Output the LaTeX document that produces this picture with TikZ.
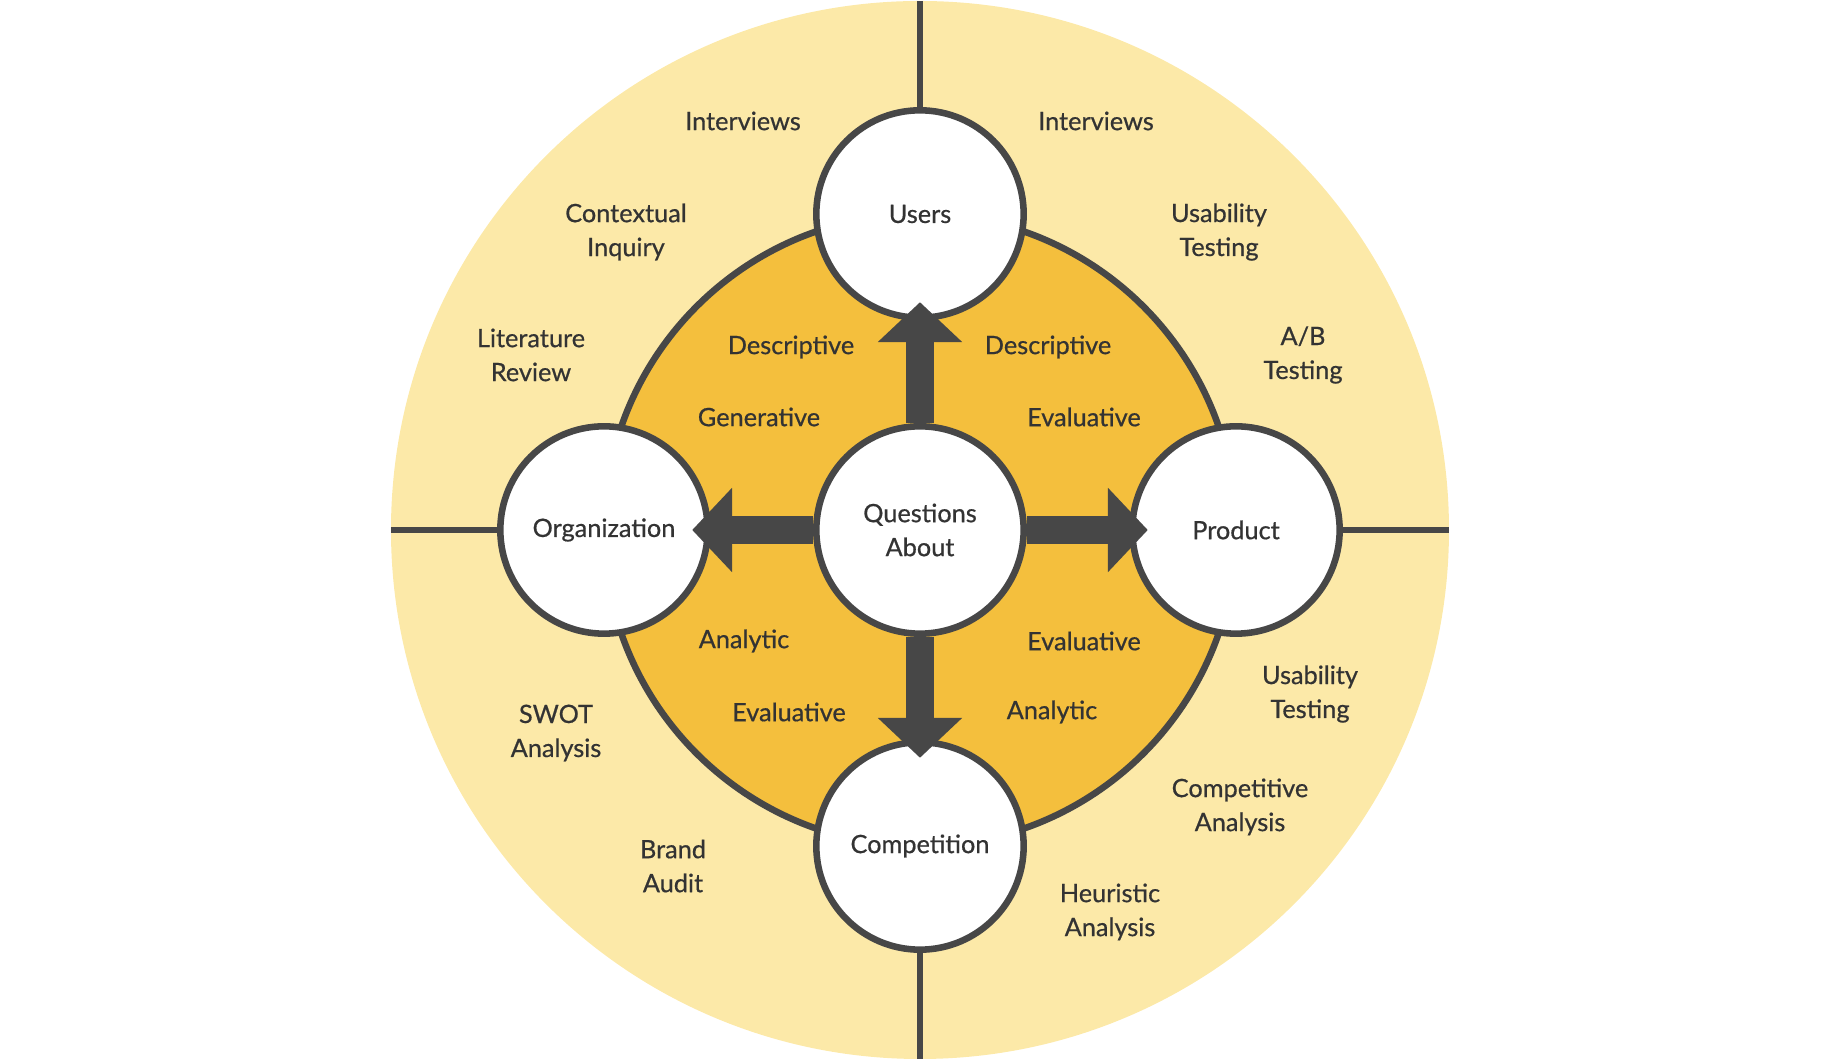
\documentclass[tikz,border=0pt]{standalone}
\usepackage{fontspec}
\setmainfont{Lato}
\newfontfamily\labelfont{Lato}[FakeBold=0.6]
\usepackage{tikz}
\usetikzlibrary{positioning, arrows.meta}
\definecolor{pale}{HTML}{FCE9A8}
\definecolor{amber}{HTML}{F4BF3D}
\definecolor{ink}{HTML}{474747}
\definecolor{txt}{HTML}{333333}
\tikzset{%
	>={Triangle[length = 17pt, width = 35pt]},
	every edge/.append style = {line width = 12pt, draw = ink},
	hub/.style = {name = #1, circle, draw = ink, fill = white, line width = 2.8pt, minimum size = 3.11cm, inner sep = 0pt, text = txt, align = center, font = \labelfont\fontsize{10.8}{14.5}\selectfont},
	tag/.style = {name = #1, text = txt, align = center, font = \labelfont\fontsize{10.8}{14.5}\selectfont},
	divider/.style = {draw = ink, line width = 2.6pt}
}

\begin{document}
\begin{tikzpicture}[x=0.015cm, y=0.015cm]
			\useasboundingbox (-920,-529) rectangle (918,530);
			\fill [pale] (0,0) circle (529);
			\coordinate (N) at (0,529);
			\coordinate (S) at (0,-529);
			\coordinate (W) at (-529,0);
			\coordinate (E) at (529,0);
			\draw [ink, fill = amber, line width = 2.8pt] (0,0) circle (316);
			\node [hub = users] at (0,316) {Users};
			\node [hub = org] at (-316,0) {Organization};
			\node [hub = prod] at (316,0) {Product};
			\node [hub = comp] at (0,-316) {Competition};
			\node [hub = q] at (0,0) {Questions\\About};
			\draw [divider] (users) -- (N);
			\draw [divider] (comp) -- (S);
			\draw [divider] (org) -- (W);
			\draw [divider] (prod) -- (E);
			\path [->] (q) edge [shorten >= -8pt] (users);
			\path [->] (q) edge [shorten >= -8pt] (org);
			\path [->] (q) edge [shorten >= -8pt] (prod);
			\path [->] (q) edge [shorten >= -8pt] (comp);
			% outer ring
			\node [tag = int1] at (-177,409) {Interviews};
			\node [tag = int2] at (176,409) {Interviews};
			\node [tag = ctx] at (-294,298) {Contextual\\Inquiry};
			\node [tag = use1] at (299,298) {Usability\\Testing};
			\node [tag = lit] at (-389,175) {Literature\\Review};
			\node [tag = ab] at (383,175) {A/B\\Testing};
			\node [tag = swot] at (-364,-203) {SWOT\\Analysis};
			\node [tag = use2] at (390,-164) {Usability\\Testing};
			\node [tag = compan] at (320,-277) {Competitive\\Analysis};
			\node [tag = brand] at (-247,-336) {Brand\\Audit};
			\node [tag = heur] at (190,-382) {Heuristic\\Analysis};
			% inner disc
			\node [tag = desc1] at (-129,183) {Descriptive};
			\node [tag = desc2] at (128,183) {Descriptive};
			\node [tag = gen] at (-161,113) {Generative};
			\node [tag = eval1] at (164,113) {Evaluative};
			\node [tag = ana1] at (-176,-111) {Analytic};
			\node [tag = eval2] at (164,-111) {Evaluative};
			\node [tag = eval3] at (-131,-182) {Evaluative};
			\node [tag = ana2] at (132,-182) {Analytic};
			\end{tikzpicture}
\end{document}
